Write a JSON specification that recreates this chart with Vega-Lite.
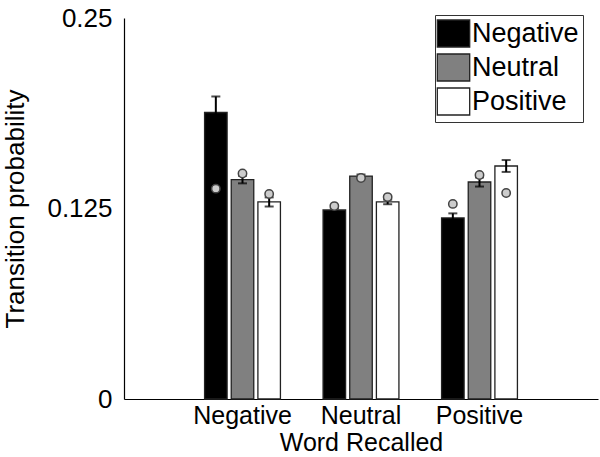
{
  "$schema": "https://vega.github.io/schema/vega-lite/v6.json",
  "width": 474,
  "height": 381,
  "autosize": {"type": "none"},
  "padding": {"left": 124, "top": 18, "right": 2, "bottom": 58},
  "config": {
    "font": "Liberation Sans",
    "view": {"stroke": null},
    "axis": {
      "domainColor": "#000000",
      "domainWidth": 1.2,
      "ticks": false,
      "grid": false,
      "labelColor": "#000000",
      "titleColor": "#000000",
      "labelFont": "Liberation Sans",
      "titleFont": "Liberation Sans",
      "titleFontWeight": "normal"
    },
    "legend": {
      "labelFont": "Liberation Sans",
      "labelColor": "#000000"
    }
  },
  "data": {
    "values": [
      {"recalled": "Negative", "category": "Negative", "prob": 0.188, "lo": 0.1775, "hi": 0.1985, "control": 0.138},
      {"recalled": "Negative", "category": "Neutral", "prob": 0.144, "lo": 0.1415, "hi": 0.1465, "control": 0.148},
      {"recalled": "Negative", "category": "Positive", "prob": 0.1293, "lo": 0.1263, "hi": 0.1323, "control": 0.1345},
      {"recalled": "Neutral", "category": "Negative", "prob": 0.124, "lo": 0.1228, "hi": 0.1252, "control": 0.1266},
      {"recalled": "Neutral", "category": "Neutral", "prob": 0.1463, "lo": 0.1453, "hi": 0.1473, "control": 0.145},
      {"recalled": "Neutral", "category": "Positive", "prob": 0.1293, "lo": 0.1278, "hi": 0.1308, "control": 0.1325},
      {"recalled": "Positive", "category": "Negative", "prob": 0.1188, "lo": 0.1158, "hi": 0.1218, "control": 0.128},
      {"recalled": "Positive", "category": "Neutral", "prob": 0.1424, "lo": 0.1394, "hi": 0.1454, "control": 0.147},
      {"recalled": "Positive", "category": "Positive", "prob": 0.1529, "lo": 0.149, "hi": 0.1568, "control": 0.1352}
    ]
  },
  "encoding": {
    "x": {
      "field": "recalled",
      "type": "nominal",
      "scale": {"domain": ["Negative", "Neutral", "Positive"], "paddingInner": 0.325, "paddingOuter": 0.6625},
      "axis": {
        "title": "Word Recalled",
        "labelAngle": 0,
        "labelFontSize": 25,
        "titleFontSize": 25,
        "labelPadding": 4,
        "titlePadding": 2
      }
    },
    "xOffset": {
      "field": "category",
      "type": "nominal",
      "scale": {"domain": ["Negative", "Neutral", "Positive"], "paddingInner": 0.155, "paddingOuter": 0.0775}
    }
  },
  "layer": [
    {
      "mark": {"type": "bar", "stroke": "#222222", "strokeWidth": 1.3},
      "encoding": {
        "y": {
          "field": "prob",
          "type": "quantitative",
          "scale": {"domain": [0, 0.25], "nice": false, "zero": true},
          "axis": {
            "title": "Transition probability",
            "values": [0, 0.125, 0.25],
            "format": ".3~f",
            "labelFontSize": 26,
            "titleFontSize": 26,
            "labelPadding": 12,
            "titlePadding": 18,
            "labelFlush": false
          }
        },
        "fill": {
          "field": "category",
          "type": "nominal",
          "scale": {"domain": ["Negative", "Neutral", "Positive"], "range": ["#000000", "#808080", "#ffffff"]},
          "legend": {
            "title": null,
            "orient": "none",
            "legendX": 311,
            "legendY": -3,
            "strokeColor": "#333333",
            "fillColor": "#ffffff",
            "padding": 4,
            "symbolType": "M-1.2,-1H1.2V1H-1.2Z",
            "symbolSize": 729,
            "symbolStrokeColor": "#222222",
            "symbolStrokeWidth": 1.3,
            "labelFontSize": 27,
            "labelOffset": 4,
            "rowPadding": 1
          }
        }
      }
    },
    {
      "mark": {"type": "rule", "color": "#000000", "strokeWidth": 2},
      "encoding": {
        "y": {"field": "lo", "type": "quantitative"},
        "y2": {"field": "hi"}
      }
    },
    {
      "mark": {"type": "tick", "color": "#000000", "size": 9, "thickness": 2},
      "encoding": {
        "y": {"field": "hi", "type": "quantitative"}
      }
    },
    {
      "mark": {"type": "tick", "color": "#000000", "size": 9, "thickness": 2},
      "encoding": {
        "y": {"field": "lo", "type": "quantitative"}
      }
    },
    {
      "mark": {"type": "point", "filled": true, "fill": "#cccccc", "stroke": "#444444", "strokeWidth": 1.5, "size": 70, "opacity": 1},
      "encoding": {
        "y": {"field": "control", "type": "quantitative"}
      }
    }
  ]
}
